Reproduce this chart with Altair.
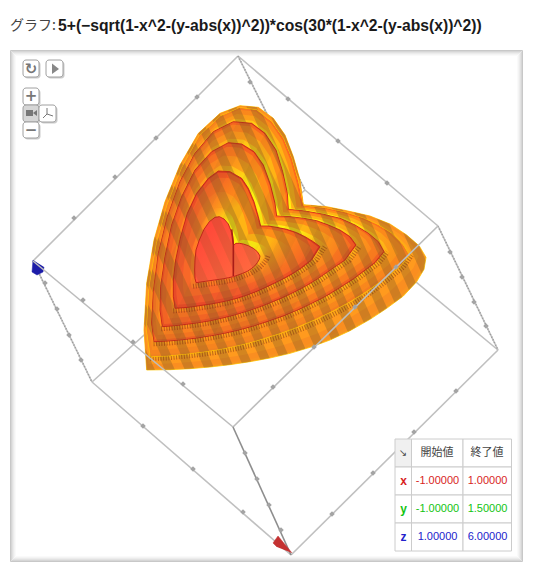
import altair as alt
import pandas as pd

# ---- heart outlines (3x crop coordinates, origin 130,70)
L0 = [(50,900),(120,899),(180,896),(240,891),(300,884),(360,875),(420,864),(480,850),(540,832),(600,810),(660,782),(720,748),(770,715),(820,678),(860,635),(882,598),(888,562),
      (868,528),(830,495),(780,462),(720,438),(650,422),(590,410),(520,404),
      (510,330),(490,260),(465,195),(430,145),(385,112),(330,107),(270,130),(205,190),(150,285),(105,395),(72,510),(50,640),(42,780)]
L1 = [(62,860),(110,858),(160,853),(210,847),(260,840),(310,830),(360,818),(410,803),(460,787),(510,768),(560,746),(610,722),(660,695),(710,664),(760,628),(810,590),(838,555),
      (820,525),(785,490),(745,465),(700,445),(650,428),(590,415),(520,407),
      (505,335),(485,265),(460,205),(425,155),(380,120),(330,113),(272,138),(208,198),(155,295),(112,405),(80,520),(58,650),(50,780)]
L2 = [(72,815),(115,813),(158,809),(201,804),(244,797),(287,789),(330,779),(373,767),(416,753),(459,738),(502,720),(545,700),(588,678),(631,652),(674,624),(735,578),(762,545),
      (745,515),(715,490),(675,465),(630,445),(580,433),(530,424),(475,418),
      (472,370),(458,305),(438,240),(405,190),(365,160),(310,155),(250,185),(195,250),(150,335),(112,440),(85,550),(70,665),(65,760)]
L3 = [(97,770),(133,767),(169,763),(205,758),(241,752),(277,744),(313,735),(349,724),(385,712),(421,698),(457,683),(493,666),(529,647),(565,625),(601,600),(645,570),(678,525),
      (660,500),(630,480),(595,465),(560,452),(520,445),(480,440),(440,438),
      (435,400),(420,340),(400,285),(372,245),(335,222),(295,218),(245,245),(195,300),(155,380),(125,465),(105,560),(92,650),(90,720)]
L4 = [(135,715),(162,713),(189,710),(216,706),(243,702),(270,697),(297,691),(324,684),(351,675),(378,665),(405,653),(432,640),(459,627),(486,612),(513,595),(545,570),(570,530),
      (550,515),(525,500),(500,488),(470,478),(440,472),(415,468),(392,468),
      (385,440),(372,395),(355,355),(335,325),(300,305),(265,303),(235,325),(200,370),(172,430),(152,500),(137,570),(130,630),(130,680)]
L5 = [(198,638),(212,636),(226,634),(240,632),(254,630),(268,628),(282,626),(296,623),(310,620),(324,615),(338,610),(352,604),(364,596),(374,588),(382,578),(388,568),(390,558),
      (382,545),(370,535),(355,527),(340,522),(328,520),(318,520),(311,525),
      (308,500),(302,480),(295,462),(282,447),(268,440),(255,442),(238,455),(222,478),(208,510),(198,540),(195,570),(194,600),(195,625)]
HEARTS = [L0, L1, L2, L3, L4, L5]
INNER_WALL = [(305,478),(310,525),(310,618)]

# shading rings inside each band: position between this outline and the next, centre colour, and rim colour per band
RING_T = [0.0, 0.03, 0.14, 0.45, 0.8]
RING_HI = ['#e83020', '#ff6a1c', '#ff8e18', '#ffb414', '#fff010']
RING_LO = [['#f89a20', '#f89420', '#fa8e20', '#ff9a1e', '#ffa81a'],
           ['#ec8420', '#f08220', '#f6841e', '#fb8c1c', '#ff9c1a'],
           ['#e04420', '#ec6022', '#f47420', '#fa8020', '#ff921c'],
           ['#dc3a20', '#e85224', '#f26424', '#f87222', '#ff8a1e'],
           ['#d83424', '#e84a28', '#f25a2a', '#f86828', '#ff7c24']]
INNER_HI = '#ff7040'
INNER_LO = '#ff4038'

# dark bands of the surface texture: left positions along the shear coordinate u = x - 0.45 y
STRIPE_SLOPE = 0.45
STRIPE_U = [-360,-300,-240,-180,-120,-60,0,60,120,180,240,300,360,420,480,540,600]
STRIPE_W = 30
CROSS_SLOPE = -0.5
CROSS_U = [200,300,400,500,600,700,800]
CROSS_W = 50

# ---- box edges, ticks (page pixels)
BOX_BEHIND = [[(238,56),(33,261)],[(238,56),(305,190)],[(305,190),(92,382)],[(305,190),(498,350)],
              [(33,261),(92,382)],[(92,382),(291,555)],[(291,555),(498,350)],[(438,226),(498,350)],[(238,56),(438,226)]]
BOX_FRONT = [[(33,261),(233,427)],[(233,427),(438,226)],[(233,427),(291,555)]]
TICKS_BEHIND = [(197,97),(156,138),(115,177),(74,218),(288,99),(338,141),(387,183),(250,82),
                (45,283),(57,309),(69,335),(81,360),(143,426),(193,469),(243,512),(332,514),(373,473),(414,432),(456,391),
                (450,252),(462,277),(474,302),(486,326)]
TICKS_FRONT = [(83,300),(133,342),(183,384),(314,347),(355,307),(396,267),(273,387),(245,453),(257,479),(269,505),(281,530)]
BLUE_CONE = [(33,260),(32,272),(37,275),(43,272),(44,267)]
RED_CONE = [(292,553),(278,536),(273,543),(277,547)]

# ---- panel shadow rings: inset, colour
RING_INSET = [0.5, 1.5, 2.5, 3.5, 4.5, 5.5]
RING_COLOR = ['#c8c8c8', '#d6d6d6', '#e2e2e2', '#ececec', '#f4f4f4', '#fafafa']
PANEL = (10, 523, 50, 562)

# ---- widget buttons
BTN_X = [23, 46, 23, 23, 39, 23]
BTN_X2 = [39, 63, 39, 39, 56, 39]
BTN_Y = [60, 60, 88, 105, 105, 122]
BTN_Y2 = [77, 77, 105, 122, 122, 138]
BTN_FILL = ['#ffffff', '#ffffff', '#ffffff', '#d6d6d6', '#ffffff', '#ffffff']
GLYPH_TEXT = ['↻', '+', '−']
GLYPH_X = [31, 31, 31]
GLYPH_Y = [69, 96, 130]

# ---- table
COL_X = [395, 411.5, 463, 511.5]
ROW_Y = [439, 467, 495, 523, 551]
HEADERS = ['開始値', '終了値']
AXES = ['x', 'y', 'z']
STARTS = ['-1.00000', '-1.00000', '1.00000']
ENDS = ['1.00000', '1.50000', '6.00000']
AXIS_COLORS = ['#d81e1e', '#12c412', '#2222cc']

X = alt.X('x:Q', scale=alt.Scale(domain=[8, 526], nice=False, zero=False), axis=None)
Y = alt.Y('y:Q', scale=alt.Scale(domain=[8, 566], nice=False, zero=False, reverse=True), axis=None)
X2 = alt.X2('x2:Q')
Y2 = alt.Y2('y2:Q')

def px(p):
    return (130 + p[0] / 3, 70 + p[1] / 3)

def mix(a, b, t):
    return [(p[0] + (q[0] - p[0]) * t, p[1] + (q[1] - p[1]) * t) for p, q in zip(a, b)]

def poly_df(pts):
    return pd.DataFrame([{'x': a, 'y': b, 'o': i} for i, (a, b) in enumerate(pts)])

def polygon(pts, **mark):
    return alt.Chart(poly_df(pts)).mark_line(**mark).encode(x=X, y=Y, order=alt.Order('o:Q'))

def clip_half(pts, slope, u, keep_above):
    out = []
    n = len(pts)
    def val(p):
        return p[0] - slope * p[1] - u
    for i in range(n):
        a, b = pts[i], pts[(i + 1) % n]
        va, vb = val(a), val(b)
        ina = va >= 0 if keep_above else va <= 0
        inb = vb >= 0 if keep_above else vb <= 0
        if ina:
            out.append(a)
        if ina != inb:
            t = va / (va - vb)
            out.append((a[0] + (b[0] - a[0]) * t, a[1] + (b[1] - a[1]) * t))
    return out

def stripes(outline, slope, starts, width, shift, color, opacity):
    rows = []
    for k, u in enumerate(starts):
        part = clip_half(outline, slope, u + shift, True)
        if part:
            part = clip_half(part, slope, u + shift + width, False)
        for o, p in enumerate(part):
            q = px(p)
            rows.append({'x': q[0], 'y': q[1], 'o': o, 'k': k})
    return alt.Chart(pd.DataFrame(rows)).mark_line(fill=color, fillOpacity=opacity, strokeWidth=0).encode(
        x=X, y=Y, order=alt.Order('o:Q'), detail='k:N')

def lines(edges, **mark):
    rows = []
    for k, e in enumerate(edges):
        for o, p in enumerate(e):
            rows.append({'x': p[0], 'y': p[1], 'o': o, 'k': k})
    return alt.Chart(pd.DataFrame(rows)).mark_line(**mark).encode(x=X, y=Y, order=alt.Order('o:Q'), detail='k:N')

def ticks(pts):
    d = pd.DataFrame(pts, columns=['x', 'y'])
    return alt.Chart(d).mark_point(shape='diamond', size=30, filled=True, color='#a4a4a4', opacity=1).encode(x=X, y=Y)

def label(items, color, size=11, font='Liberation Sans', weight='normal', align='center'):
    d = pd.DataFrame(items, columns=['x', 'y', 't'])
    return alt.Chart(d).mark_text(color=color, fontSize=size, font=font, fontWeight=weight, align=align, baseline='middle').encode(
        x=X, y=Y, text='t:N')

def radial(hi, lo):
    return alt.Gradient(gradient='radial', x1=0.6, y1=0.36, r1=0, x2=0.6, y2=0.36, r2=0.7,
                        stops=[alt.GradientStop(offset=0, color=hi),
                               alt.GradientStop(offset=0.32, color=hi),
                               alt.GradientStop(offset=0.72, color=lo),
                               alt.GradientStop(offset=1, color=lo)])

layers = []

# panel
layers.append(alt.Chart(pd.DataFrame([{'x': PANEL[0], 'x2': PANEL[1], 'y': PANEL[2], 'y2': PANEL[3]}])).mark_rect(fill='#ffffff').encode(x=X, x2=X2, y=Y, y2=Y2))
for inset, col in zip(RING_INSET, RING_COLOR):
    d = pd.DataFrame([{'x': PANEL[0] + inset, 'x2': PANEL[1] - inset, 'y': PANEL[2] + inset, 'y2': PANEL[3] - inset}])
    layers.append(alt.Chart(d).mark_rect(fill='transparent', stroke=col, strokeWidth=1).encode(x=X, x2=X2, y=Y, y2=Y2))

# box behind
layers.append(lines(BOX_BEHIND, stroke='#c0c0c0', strokeWidth=1.6))
layers.append(lines([BOX_BEHIND[1], BOX_BEHIND[4], BOX_BEHIND[7]], stroke='#9a9a9a', strokeWidth=1.6, strokeDash=[1, 2]))
layers.append(ticks(TICKS_BEHIND))
layers.append(polygon(BLUE_CONE, fill='#1c1ca8', stroke='#1c1ca8', strokeWidth=0.5))

# heart, outermost first
for k in range(len(HEARTS) - 1):
    outer, inner = HEARTS[k], HEARTS[k + 1]
    for r, t in enumerate(RING_T):
        ring = mix(outer, inner, t)
        P = [px(p) for p in ring]
        layers.append(polygon(P + [P[0]], fill=radial(RING_HI[r] if k > 0 else RING_LO[k][r], RING_LO[k][r]),
                              stroke='#ffc400' if (k < 2 and r == 0) else ('#c01e18' if r == 0 else 'transparent'),
                              strokeWidth=0.8 if r == 0 else 0))
    layers.append(stripes(outer, STRIPE_SLOPE, STRIPE_U, STRIPE_W, 8 * k, '#7a5a24', 0.33))
    if k >= 2:
        layers.append(stripes(outer, CROSS_SLOPE, CROSS_U, CROSS_W, 0, '#7a5a24', 0.08))
    comb = [px(p) for p in mix(outer, inner, 0.86)[:17]]
    layers.append(polygon(comb, stroke='#7a2a10', strokeOpacity=0.5, strokeWidth=5, strokeDash=[1, 1.6]))

P = [px(p) for p in L5]
layers.append(polygon(P + [P[0]], fill=alt.Gradient(gradient='linear', x1=0, y1=0, x2=1, y2=1,
              stops=[alt.GradientStop(offset=0, color=INNER_LO), alt.GradientStop(offset=1, color=INNER_HI)]),
              stroke='#c01e18', strokeWidth=0.9))
layers.append(stripes(L5, STRIPE_SLOPE, STRIPE_U, STRIPE_W, 40, '#7a5a24', 0.16))
layers.append(polygon([px(p) for p in INNER_WALL], stroke='#a81c18', strokeWidth=1.6))

# box in front
layers.append(lines(BOX_FRONT[:2], stroke='#bdbdbd', strokeWidth=1.6))
layers.append(lines(BOX_FRONT[2:], stroke='#8e8e8e', strokeWidth=1.6))
layers.append(ticks(TICKS_FRONT))
layers.append(polygon(RED_CONE, fill='#c43232', stroke='#c43232', strokeWidth=0.5))

# buttons
for i in range(len(BTN_X)):
    s = pd.DataFrame([{'x': BTN_X[i] + 1.5, 'x2': BTN_X2[i] + 1.5, 'y': BTN_Y[i] + 1.5, 'y2': BTN_Y2[i] + 1.5}])
    layers.append(alt.Chart(s).mark_rect(fill='#aaaaaa', opacity=0.6, cornerRadius=3).encode(x=X, x2=X2, y=Y, y2=Y2))
for i in range(len(BTN_X)):
    b = pd.DataFrame([{'x': BTN_X[i], 'x2': BTN_X2[i], 'y': BTN_Y[i], 'y2': BTN_Y2[i]}])
    layers.append(alt.Chart(b).mark_rect(fill=BTN_FILL[i], stroke='#a0a0a0', strokeWidth=1, cornerRadius=3).encode(x=X, x2=X2, y=Y, y2=Y2))
layers.append(alt.Chart(pd.DataFrame({'x': GLYPH_X, 'y': GLYPH_Y, 't': GLYPH_TEXT})).mark_text(
    color='#777777', fontSize=15, font='DejaVu Sans', fontWeight='bold', align='center', baseline='middle').encode(x=X, y=Y, text='t:N'))
layers.append(polygon([(52, 63.5), (52, 74), (59, 69), (52, 63.5)], fill='#888888', strokeWidth=0))
layers.append(polygon([(26, 110), (33, 110), (33, 116), (26, 116), (26, 110)], fill='#777777', strokeWidth=0))
layers.append(polygon([(33, 113), (37, 110), (37, 116), (33, 113)], fill='#777777', strokeWidth=0))
layers.append(lines([[(47, 114), (47, 108)], [(47, 114), (43, 118)], [(47, 114), (53, 116)]], stroke='#777777', strokeWidth=1))

# table
cells = []
for r in range(4):
    for c in range(3):
        cells.append({'x': COL_X[c], 'x2': COL_X[c + 1], 'y': ROW_Y[r], 'y2': ROW_Y[r + 1],
                      'f': '#f0f0f0' if (r == 0 and c == 0) else '#ffffff'})
layers.append(alt.Chart(pd.DataFrame(cells)).mark_rect(stroke='#cccccc', strokeWidth=1).encode(
    x=X, x2=X2, y=Y, y2=Y2, fill=alt.Fill('f:N', scale=None)))
layers.append(label([(403, 453, '↘')], '#444444', size=10, font='DejaVu Sans'))
layers.append(label([(437, 452.5, HEADERS[0]), (487, 452.5, HEADERS[1])], '#444444', size=11, font='Noto Sans CJK JP'))
for i in range(3):
    ym = (ROW_Y[i + 1] + ROW_Y[i + 2]) / 2
    layers.append(label([(403.5, ym, AXES[i])], AXIS_COLORS[i], size=12, weight='bold'))
    layers.append(label([(437.5, ym, STARTS[i]), (487.5, ym, ENDS[i])], AXIS_COLORS[i], size=11))

# title
layers.append(label([(10, 26, 'グラフ:')], '#444444', size=14, font='Noto Sans CJK JP', align='left'))
layers.append(label([(58, 26, '5+(−sqrt(1-x^2-(y-abs(x))^2))*cos(30*(1-x^2-(y-abs(x))^2))')], '#1a1a1a', size=15.7, weight='bold', align='left'))

chart = alt.layer(*layers).properties(
    width=518, height=558, padding=0,
    autosize=alt.AutoSizeParams(type='none'),
    background='white'
).configure_view(strokeWidth=0)

chart.save('out.html', embed_options={'renderer': 'svg', 'actions': False})
